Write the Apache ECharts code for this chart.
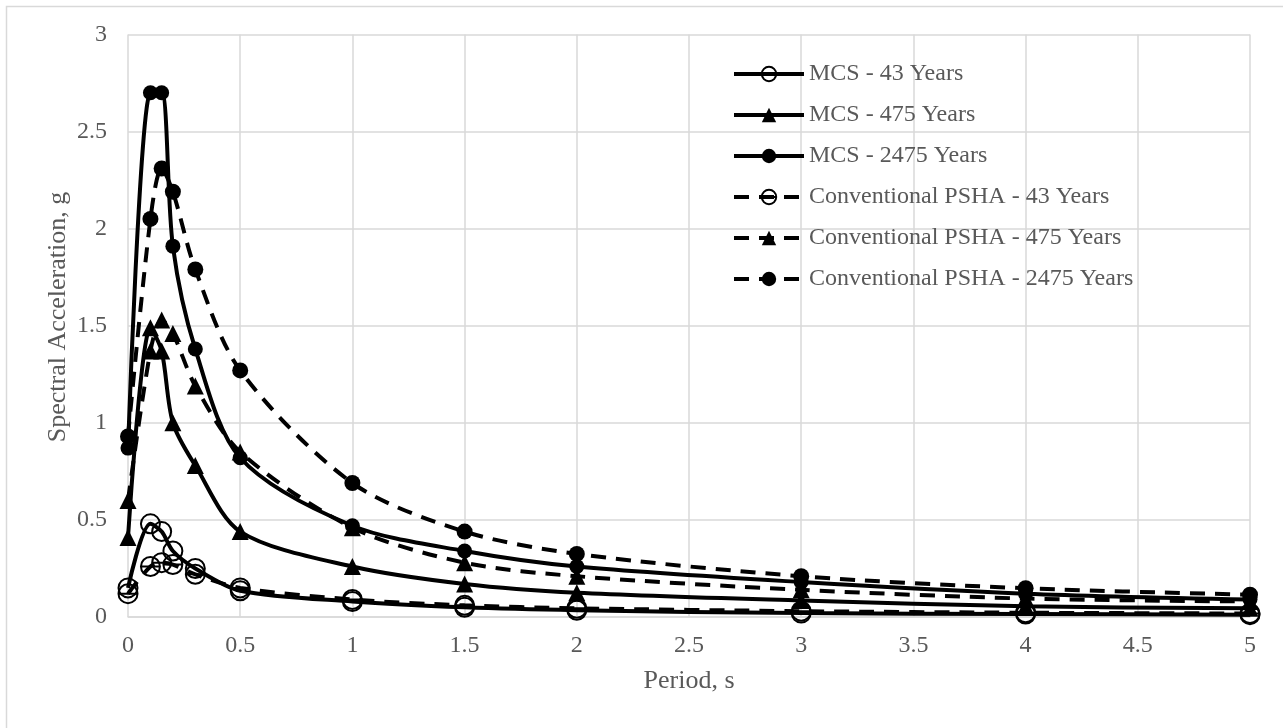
<!DOCTYPE html>
<html>
<head>
<meta charset="utf-8">
<title>Spectral Acceleration</title>
<script src="https://cdn.jsdelivr.net/npm/echarts@6.0.0/dist/echarts.min.js"></script>
<style>
html, body { margin: 0; padding: 0; background: #ffffff; }
#lineChart { width: 1283px; height: 728px; }
</style>
</head>
<body>
<div id="lineChart"></div>
<script>
// periods (s)
var periods = [0, 0.1, 0.15, 0.2, 0.3, 0.5, 1, 1.5, 2, 3, 4, 5];
// spectral acceleration (g)
var mcs43 = [0.15, 0.48, 0.44, 0.34, 0.25, 0.135, 0.08, 0.05, 0.035, 0.02, 0.015, 0.012];
var mcs475 = [0.41, 1.49, 1.37, 1.00, 0.78, 0.44, 0.26, 0.17, 0.125, 0.085, 0.055, 0.045];
var mcs2475 = [0.87, 2.70, 2.70, 1.91, 1.38, 0.82, 0.47, 0.34, 0.26, 0.18, 0.12, 0.09];
var psha43 = [0.12, 0.26, 0.28, 0.27, 0.22, 0.15, 0.09, 0.06, 0.045, 0.03, 0.022, 0.018];
var psha475 = [0.60, 1.37, 1.53, 1.46, 1.19, 0.85, 0.46, 0.28, 0.21, 0.14, 0.095, 0.08];
var psha2475 = [0.93, 2.05, 2.31, 2.19, 1.79, 1.27, 0.69, 0.44, 0.325, 0.21, 0.148, 0.115];
var seriesNames = [
    'MCS - 43 Years',
    'MCS - 475 Years',
    'MCS - 2475 Years',
    'Conventional PSHA - 43 Years',
    'Conventional PSHA - 475 Years',
    'Conventional PSHA - 2475 Years'
];

var font = "'Times New Roman', 'Liberation Serif', serif";
var grey = '#595959';
var gridColor = '#d9d9d9';

// open circle with a bar through it
var barCircle = 'path://M-10,0 A10,10 0 1,1 10,0 A10,10 0 1,1 -10,0 Z M-10,0 L10,0';

function pairs(ys) {
    var out = [];
    for (var i = 0; i < periods.length; i++) {
        out.push([periods[i], ys[i]]);
    }
    return out;
}

function makeSeries(name, ys, symbol, size, dashed, hollow) {
    return {
        name: name,
        type: 'line',
        data: pairs(ys),
        smooth: 0.3,
        symbol: symbol,
        symbolSize: size,
        showAllSymbol: true,
        lineStyle: {
            color: '#000',
            width: 4,
            type: dashed ? [15, 10] : 'solid',
            cap: 'butt'
        },
        itemStyle: hollow ? {
            color: 'rgba(0,0,0,0)',
            borderColor: '#000',
            borderWidth: 2
        } : {
            color: '#000',
            borderWidth: 0
        },
        emphasis: { disabled: true },
        z: 2
    };
}

var lineChart = echarts.init(document.getElementById('lineChart'));
var option = {
    animation: false,
    backgroundColor: '#ffffff',
    grid: {
        left: 128,
        right: 33,
        top: 34.5,
        bottom: 111
    },
    legend: {
        orient: 'vertical',
        left: 732,
        top: 62,
        padding: 0,
        itemWidth: 70,
        itemHeight: 18,
        itemGap: 17,
        lineStyle: { width: 4 },
        textStyle: { fontFamily: font, fontSize: 24, color: grey },
        data: seriesNames
    },
    xAxis: {
        type: 'value',
        min: 0,
        max: 5,
        interval: 0.5,
        name: 'Period, s',
        nameLocation: 'middle',
        nameGap: 51,
        nameTextStyle: { fontFamily: font, fontSize: 26, color: grey },
        axisLine: { lineStyle: { color: gridColor, width: 1.5 } },
        axisTick: { show: false },
        axisLabel: { fontFamily: font, fontSize: 24, color: grey, margin: 17 },
        splitLine: { show: true, lineStyle: { color: gridColor, width: 1.5 } }
    },
    yAxis: {
        type: 'value',
        min: 0,
        max: 3,
        interval: 0.5,
        axisLine: { show: false },
        axisTick: { show: false },
        axisLabel: { fontFamily: font, fontSize: 24, color: grey, margin: 21 },
        splitLine: { show: true, lineStyle: { color: gridColor, width: 1.5 } }
    },
    graphic: [
        {
            // chart area border
            type: 'rect',
            shape: { x: 6.5, y: 6.5, width: 1300, height: 760 },
            style: { fill: 'none', stroke: gridColor, lineWidth: 1.5 },
            silent: true
        },
        {
            type: 'text',
            x: 58,
            y: 317,
            rotation: Math.PI / 2,
            style: {
                text: 'Spectral Acceleration, g',
                fontFamily: font,
                fontSize: 26,
                fill: grey,
                align: 'center',
                verticalAlign: 'middle'
            }
        }
    ],
    series: [
        makeSeries(seriesNames[0], mcs43, 'circle', 19, false, true),
        makeSeries(seriesNames[1], mcs475, 'triangle', 17, false, false),
        makeSeries(seriesNames[2], mcs2475, 'circle', 15, false, false),
        makeSeries(seriesNames[3], psha43, barCircle, 19, true, true),
        makeSeries(seriesNames[4], psha475, 'triangle', 17, true, false),
        makeSeries(seriesNames[5], psha2475, 'circle', 16, true, false)
    ]
};
lineChart.setOption(option);
</script>
</body>
</html>
